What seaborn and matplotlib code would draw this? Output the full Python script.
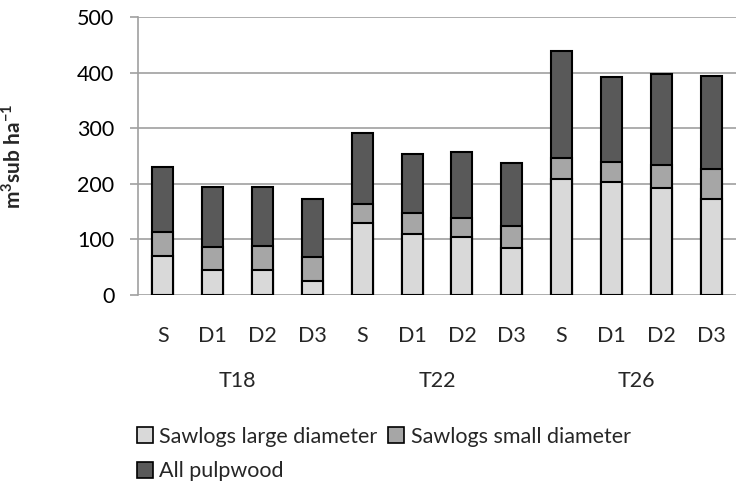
import matplotlib
matplotlib.use("Agg")
import matplotlib.pyplot as plt
import seaborn as sns
import pandas as pd
from matplotlib.patches import Patch

groups = ["T18", "T22", "T26"]
treatments = ["S", "D1", "D2", "D3"]
large_diam = [70, 45, 45, 26, 130, 110, 104, 85, 208, 203, 193, 172]
small_diam = [43, 42, 43, 42, 34, 37, 35, 39, 38, 37, 41, 55]
pulpwood = [117, 107, 106, 104, 127, 107, 118, 114, 192, 152, 164, 166]

df = pd.DataFrame({
    "key": [g + " " + t for g in groups for t in treatments],
    "treat": treatments * len(groups),
    "large": large_diam,
    "small": small_diam,
    "pulp": pulpwood,
})
df["mid"] = df["large"] + df["small"]
df["total"] = df["mid"] + df["pulp"]

col_large = "#d9d9d9"
col_small = "#a6a6a6"
col_pulp = "#595959"

sns.set_style("white")
plt.rcParams["font.family"] = ["Lato", "DejaVu Sans"]
plt.rcParams["mathtext.fontset"] = "custom"
plt.rcParams["mathtext.rm"] = "Lato"
plt.rcParams["mathtext.bf"] = "Lato:bold"

fig = plt.figure(figsize=(7.36, 4.97), dpi=100)
ax = fig.add_axes([138 / 736, 1 - 295 / 497, 598 / 736, 278 / 497])

# stacked bars drawn as cumulative overlays
bar_kw = dict(edgecolor="black", linewidth=1.5, width=0.42, ax=ax, zorder=3)
sns.barplot(data=df, x="key", y="total", color=col_pulp, saturation=1, **bar_kw)
sns.barplot(data=df, x="key", y="mid", color=col_small, saturation=1, **bar_kw)
sns.barplot(data=df, x="key", y="large", color=col_large, saturation=1, **bar_kw)

ax.set_ylim(0, 500)
ax.set_xlim(-0.5, 11.5)
ax.set_yticks([0, 100, 200, 300, 400, 500])
ax.yaxis.grid(True, color="#a0a0a0", linewidth=1.2, zorder=0)
ax.set_axisbelow(True)
for s in ["top", "right", "bottom"]:
    ax.spines[s].set_visible(False)
ax.spines["left"].set_color("#a0a0a0")
ax.spines["left"].set_linewidth(1.2)
ax.tick_params(axis="y", left=True, length=6, width=1.2, color="#a0a0a0",
               labelsize=15.5, pad=11, labelcolor="black")
ax.set_xticks(range(len(df)))
ax.set_xticklabels(df["treat"])
ax.tick_params(axis="x", length=0, labelsize=15.5, pad=22)
ax.set_xlabel("")

ax.set_ylabel(r"m$^{\mathbf{3}}$sub ha$^{\mathbf{-1}}$", fontsize=15, fontweight="bold")
ax.yaxis.set_label_coords(-0.19, 0.5)

for i, g in enumerate(groups):
    ax.annotate(g, xy=(i * 4 + 1.5, 0), xycoords=("data", "axes fraction"),
                xytext=(0, -62), textcoords="offset points",
                ha="center", va="center", fontsize=15.5)

handles = [
    Patch(facecolor=col_large, edgecolor="black", linewidth=1.2, label="Sawlogs large diameter"),
    Patch(facecolor=col_pulp, edgecolor="black", linewidth=1.2, label="All pulpwood"),
    Patch(facecolor=col_small, edgecolor="black", linewidth=1.2, label="Sawlogs small diameter"),
]
fig.legend(handles=handles, ncol=2, loc="upper left", bbox_to_anchor=(128 / 736, 1 - 418 / 497),
           frameon=False, fontsize=15.5, handlelength=0.75, handleheight=0.75,
           handletextpad=0.3, columnspacing=0.5, labelspacing=0.68, borderaxespad=0)

fig.savefig("out.png", dpi=100)
